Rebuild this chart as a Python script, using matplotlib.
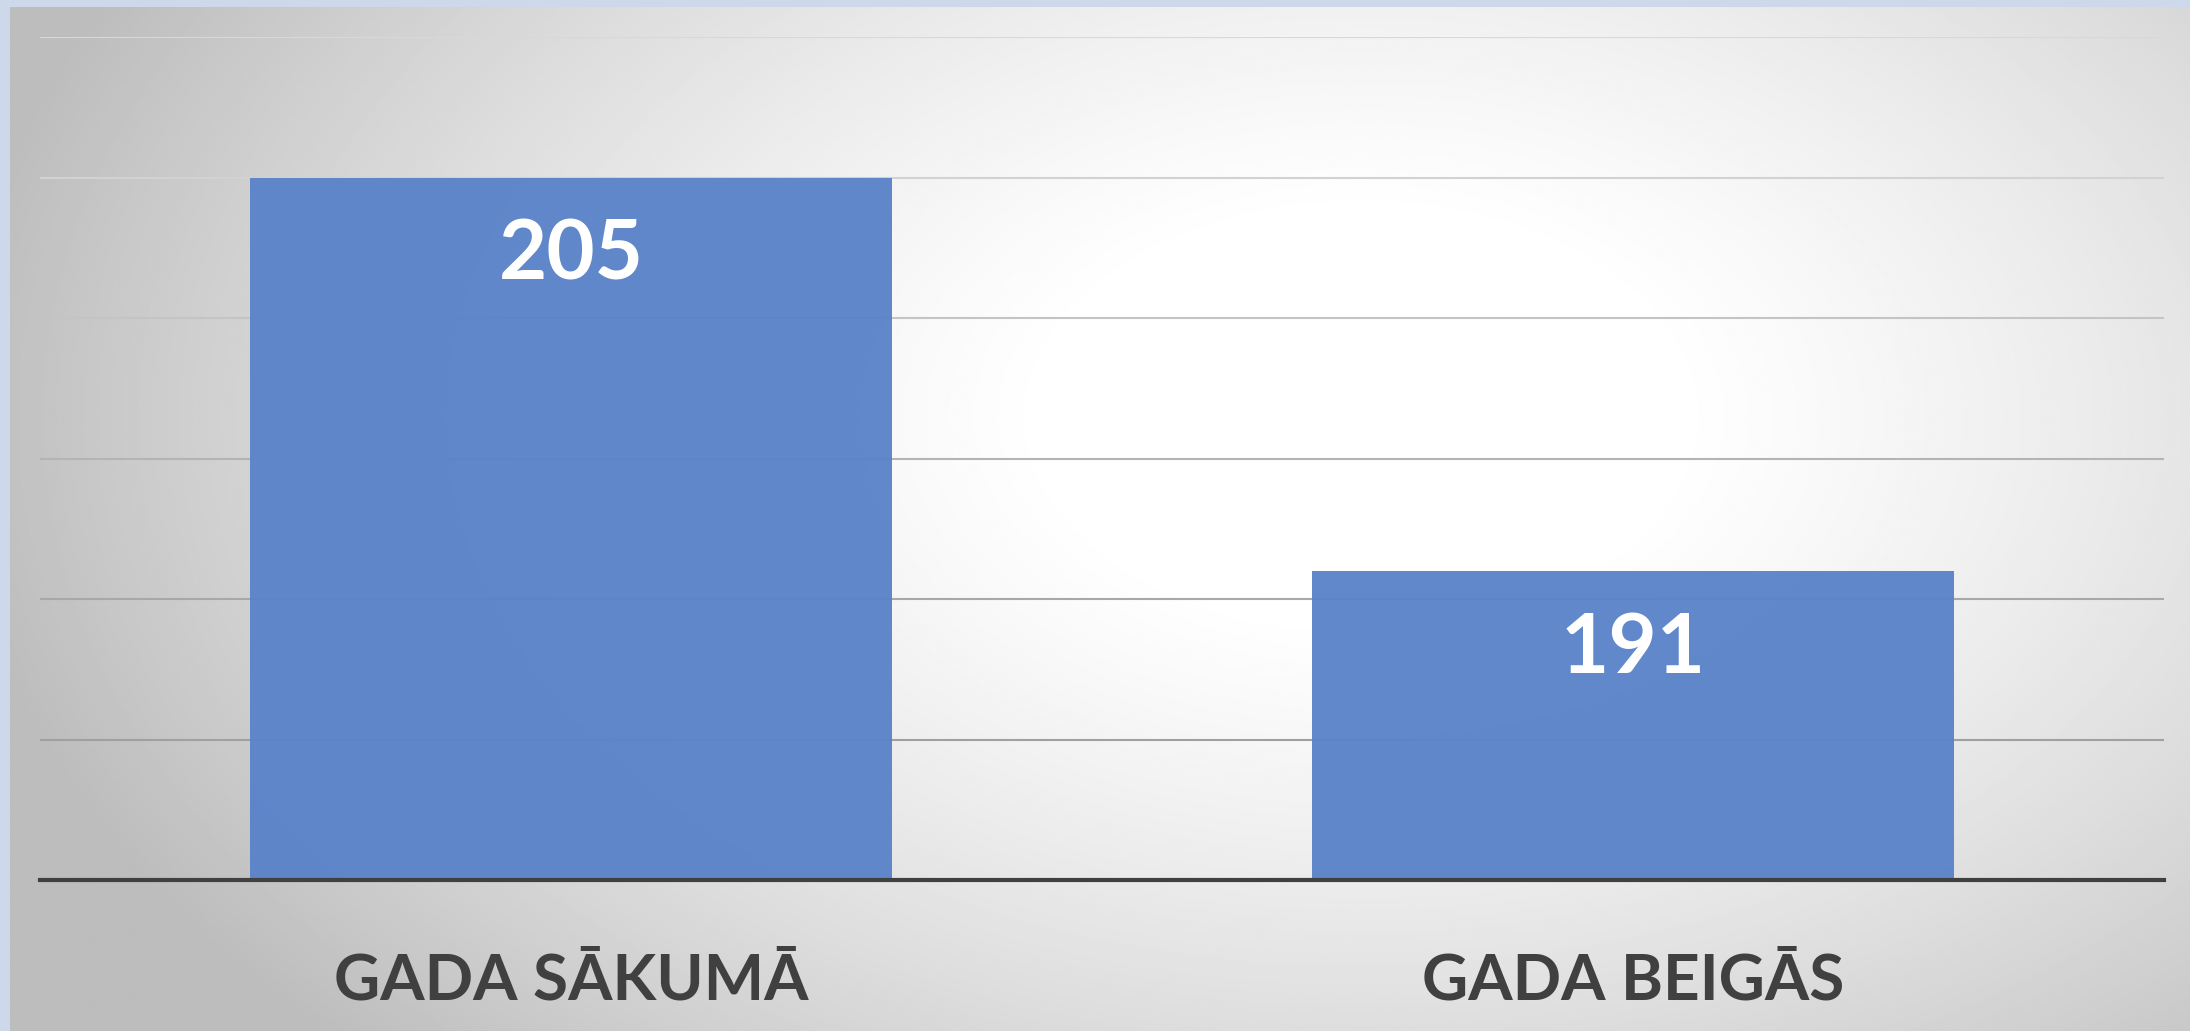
import numpy as np
import matplotlib.pyplot as plt

categories = ["GADA SĀKUMĀ", "GADA BEIGĀS"]
values = [205, 191]
y_ticks = [180, 185, 190, 195, 200, 205, 210]
grid_colors = ["#404040", "#a0a0a0", "#a8a8a8", "#b4b4b4", "#c4c4c4", "#d2d2d2", "#d8d8d8"]

W, H, dpi = 2190, 1031, 100
fig = plt.figure(figsize=(W / dpi, H / dpi), dpi=dpi)
fig.patch.set_facecolor("#cdd9ea")

# radial grey background panel
bg = fig.add_axes([10 / W, 0, 1 - 10 / W, 1 - 7 / H])
bg.set_axis_off()
yy, xx = np.mgrid[0:1:400j, 0:1:800j]
r = np.sqrt(((xx - 0.62) / 0.62) ** 2 + ((yy - 0.4) / 0.85) ** 2)
shade = np.clip(1.03 - 0.27 * r ** 1.5, 0.74, 1.0)
bg.imshow(shade, cmap="gray", vmin=0, vmax=1, aspect="auto",
          extent=[0, 1, 1, 0], interpolation="bilinear")

ax = fig.add_axes([40 / W, 1 - 880 / H, 2124 / W, (880 - 37) / H])
ax.patch.set_alpha(0)
x = np.arange(len(categories))
base = y_ticks[0]
ax.set_xlim(-0.5, len(categories) - 0.5)
ax.set_ylim(y_ticks[0], y_ticks[-1])

for t, c in zip(y_ticks[1:], grid_colors[1:]):
    ax.axhline(t, color=c, lw=1.5, zorder=1)

bars = ax.bar(x, [v - base for v in values], width=0.605, bottom=base,
              color="#5a83c9", alpha=0.96, zorder=2)
ax.axhline(base, color=grid_colors[0], lw=3, zorder=3, clip_on=False)

for b, v in zip(bars, values):
    ax.text(b.get_x() + b.get_width() / 2, v - 2.8, str(v), ha="center", va="center",
            color="white", fontsize=60, fontweight="bold", family=["Lato", "DejaVu Sans"],
            zorder=4)

for xi, lab in zip(x, categories):
    ax.text(xi, base - 3.6, lab, ha="center", va="center", color="#404040",
            fontsize=46, fontweight="bold", family=["Lato", "DejaVu Sans"], clip_on=False)

for s in ax.spines.values():
    s.set_visible(False)
ax.set_xticks([])
ax.set_yticks([])

fig.savefig("out.png", dpi=dpi)
